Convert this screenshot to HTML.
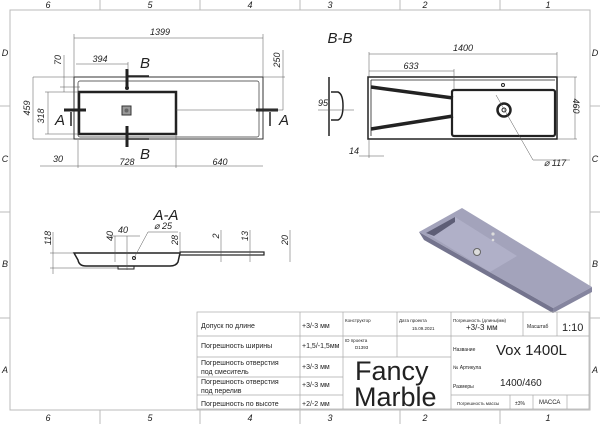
<!DOCTYPE html>
<html><head><meta charset="utf-8"><style>
html,body{margin:0;padding:0;background:#fff}
svg{display:block}
text{font-family:"Liberation Sans",sans-serif;fill:#222}
.i{font-style:italic}
</style></head><body>
<svg width="600" height="424" viewBox="0 0 600 424" xmlns="http://www.w3.org/2000/svg">
<g stroke="#bbb" stroke-width="1" fill="none">
<rect x="10" y="10" width="580" height="400"/>
<line x1="100" y1="0" x2="100" y2="10"/><line x1="200" y1="0" x2="200" y2="10"/><line x1="300" y1="0" x2="300" y2="10"/><line x1="400" y1="0" x2="400" y2="10"/><line x1="500" y1="0" x2="500" y2="10"/>
<line x1="100" y1="410" x2="100" y2="424"/><line x1="200" y1="410" x2="200" y2="424"/><line x1="300" y1="410" x2="300" y2="424"/><line x1="400" y1="410" x2="400" y2="424"/><line x1="500" y1="410" x2="500" y2="424"/>
<line x1="0" y1="106" x2="10" y2="106"/><line x1="0" y1="212" x2="10" y2="212"/><line x1="0" y1="318" x2="10" y2="318"/>
<line x1="590" y1="106" x2="600" y2="106"/><line x1="590" y1="212" x2="600" y2="212"/><line x1="590" y1="318" x2="600" y2="318"/>
</g>
<g class="i" font-size="9" text-anchor="middle">
<text x="48" y="8" class="i">6</text><text x="150" y="8" class="i">5</text><text x="250" y="8" class="i">4</text><text x="330" y="8" class="i">3</text><text x="425" y="8" class="i">2</text><text x="548" y="8" class="i">1</text>
<text x="48" y="421" class="i">6</text><text x="150" y="421" class="i">5</text><text x="250" y="421" class="i">4</text><text x="330" y="421" class="i">3</text><text x="425" y="421" class="i">2</text><text x="548" y="421" class="i">1</text>
<text x="5" y="56" class="i">D</text><text x="5" y="162" class="i">C</text><text x="5" y="267" class="i">B</text><text x="5" y="373" class="i">A</text>
<text x="595" y="56" class="i">D</text><text x="595" y="162" class="i">C</text><text x="595" y="267" class="i">B</text><text x="595" y="373" class="i">A</text>
</g>

<!-- top view -->
<g stroke="#333" fill="none">
<rect x="74" y="77" width="189" height="62" stroke-width="1"/>
<rect x="78" y="81" width="181" height="56" rx="2" stroke-width="0.7"/>
<rect x="79" y="92" width="97" height="42" stroke="#222" stroke-width="2.5"/>
</g>
<rect x="122" y="106" width="9" height="9" fill="#999" stroke="#333"/>
<circle cx="126.5" cy="110.5" r="2" fill="#666"/>
<!-- section markers -->
<g stroke="#222" stroke-width="3">
<line x1="127" y1="69" x2="127" y2="88"/><line x1="127" y1="126" x2="127" y2="147"/>
<line x1="64" y1="110" x2="86" y2="110"/><line x1="256" y1="110" x2="278" y2="110"/>
</g>
<circle cx="127" cy="88" r="2" fill="#222"/>
<g stroke="#222" stroke-width="1.5">
<line x1="128" y1="76" x2="149" y2="76"/><line x1="128" y1="139" x2="149" y2="139"/>
<line x1="71" y1="112" x2="71" y2="126"/><line x1="270" y1="112" x2="270" y2="126"/>
</g>
<g font-size="15" class="i" text-anchor="middle">
<text x="145" y="68" class="i">B</text><text x="145" y="159" class="i">B</text>
<text x="60" y="125" class="i">A</text><text x="284" y="125" class="i">A</text>
<text x="340" y="43" class="i">B-B</text>
<text x="166" y="220" class="i">A-A</text>
</g>
<!-- dimensions top view -->
<g stroke="#555" stroke-width="0.5" fill="none">
<line x1="74" y1="38" x2="263" y2="38"/><line x1="74" y1="34" x2="74" y2="77"/><line x1="263" y1="34" x2="263" y2="77"/>
<line x1="76" y1="64" x2="128" y2="64"/><line x1="128" y1="62" x2="128" y2="70"/>
<line x1="33" y1="77" x2="74" y2="77"/><line x1="33" y1="139" x2="74" y2="139"/>
<line x1="33" y1="77" x2="33" y2="139"/><line x1="48" y1="92" x2="48" y2="134"/><line x1="45" y1="92" x2="79" y2="92"/><line x1="45" y1="134" x2="79" y2="134"/>
<line x1="64" y1="55" x2="64" y2="92"/><line x1="60" y1="87" x2="80" y2="87"/>
<line x1="283" y1="50" x2="283" y2="110"/><line x1="263" y1="77" x2="285" y2="77"/><line x1="176" y1="110" x2="283" y2="110"/>
<line x1="40" y1="166" x2="263" y2="166"/><line x1="78" y1="140" x2="78" y2="168"/><line x1="176" y1="134" x2="176" y2="168"/>
</g>
<g font-size="9" class="i" text-anchor="middle">
<text x="160" y="35" class="i">1399</text><text x="100" y="62" class="i">394</text>
<text x="58" y="162" class="i">30</text><text x="127" y="165" class="i">728</text><text x="220" y="165" class="i">640</text>
<text transform="translate(30,108) rotate(-90)" class="i">459</text>
<text transform="translate(44,116) rotate(-90)" class="i">318</text>
<text transform="translate(61,60) rotate(-90)" class="i">70</text>
<text transform="translate(280,60) rotate(-90)" class="i">250</text>
</g>

<!-- B-B view -->
<g stroke="#222" fill="none">
<rect x="368" y="77" width="189" height="62" stroke-width="1.5"/>
<rect x="452" y="90" width="103" height="46" rx="2" stroke-width="2.2"/>
<line x1="371" y1="80" x2="555" y2="80" stroke-width="0.8"/>
<line x1="371" y1="80" x2="371" y2="136" stroke-width="0.8"/>
<path d="M371 87 L453 98 M371 129 L453 116" stroke-width="3.5"/>
<circle cx="504" cy="110" r="6.5" stroke-width="2.5"/><circle cx="504" cy="110" r="2" stroke-width="1"/>
<circle cx="503" cy="85" r="1.5"/>
<path d="M329 77 L329 136 M331 92 L338 92 Q343 94 343 106 Q343 118 338 120 L331 120" stroke-width="1.5"/>
</g>
<g stroke="#555" stroke-width="0.5" fill="none">
<line x1="369" y1="54" x2="557" y2="54"/><line x1="369" y1="52" x2="369" y2="77"/><line x1="557" y1="52" x2="557" y2="77"/>
<line x1="369" y1="71" x2="454" y2="71"/><line x1="454" y1="69" x2="454" y2="90"/>
<line x1="575" y1="77" x2="575" y2="139"/><line x1="557" y1="77" x2="577" y2="77"/><line x1="557" y1="139" x2="577" y2="139"/>
<line x1="318" y1="110" x2="354" y2="110"/>
<line x1="359" y1="156" x2="384" y2="156"/><line x1="369" y1="139" x2="369" y2="158"/>
<line x1="496" y1="95" x2="533" y2="160"/><line x1="533" y1="160" x2="570" y2="160"/>
</g>
<g font-size="9" class="i" text-anchor="middle">
<text x="463" y="51" class="i">1400</text><text x="411" y="69" class="i">633</text>
<text x="323" y="106" class="i">95</text><text x="354" y="154" class="i">14</text>
<text x="555" y="166" class="i">⌀ 117</text>
<text transform="translate(573,106) rotate(90)" class="i">460</text>
</g>

<!-- A-A view -->
<g stroke="#222" fill="none">
<path d="M74 253 L180 253 L178 262 Q176 266 170 266 L86 266 Q79 266 78 260 Z" stroke-width="1.5"/>
<rect x="118" y="266" width="16" height="3" stroke-width="1"/>
<rect x="180" y="252" width="84" height="3" stroke-width="1.2"/>
<circle cx="134" cy="258" r="1.5"/>
</g>
<g stroke="#555" stroke-width="0.5" fill="none">
<line x1="53" y1="232" x2="53" y2="274"/><line x1="50" y1="253" x2="74" y2="253"/><line x1="50" y1="268" x2="118" y2="268"/>
<line x1="115" y1="236" x2="115" y2="262"/><line x1="127" y1="236" x2="127" y2="270"/><line x1="110" y1="236" x2="140" y2="236"/>
<line x1="134" y1="258" x2="148" y2="232"/><line x1="148" y1="232" x2="178" y2="232"/>
<line x1="180" y1="232" x2="180" y2="255"/><line x1="221" y1="230" x2="221" y2="262"/><line x1="250" y1="230" x2="250" y2="262"/><line x1="290" y1="230" x2="290" y2="262"/>
</g>
<g font-size="9" class="i" text-anchor="middle">
<text x="123" y="233" class="i">40</text><text x="163" y="229" class="i">⌀ 25</text>
<text transform="translate(51,238) rotate(-90)" class="i">118</text>
<text transform="translate(113,236) rotate(-90)" class="i">40</text>
<text transform="translate(178,240) rotate(-90)" class="i">28</text>
<text transform="translate(219,236) rotate(-90)" class="i">2</text>
<text transform="translate(248,236) rotate(-90)" class="i">13</text>
<text transform="translate(288,240) rotate(-90)" class="i">20</text>
</g>

<!-- 3D render -->
<g>
<path d="M419 232 L462 208 L592 287 L553 308 Z" fill="#a3a3bb"/>
<path d="M419 232 L553 308 L553 313 L424 240 Z" fill="#74748e"/>
<path d="M553 308 L592 287 L592 292 L553 313 Z" fill="#85859f"/>
<path d="M426 233 L455 217 L517 256 L490 272 Z" fill="#b0b0c8"/>
<path d="M426 233 L455 217 L455 222 L434 236 Z" fill="#5e5e76"/>
<circle cx="477" cy="252" r="3.5" fill="#ddd" stroke="#666"/>
<circle cx="493" cy="234" r="1.6" fill="#ddd"/><circle cx="493" cy="240" r="1.3" fill="#ddd"/>
</g>

<!-- title block -->
<g stroke="#aaa" stroke-width="0.7" fill="none">
<rect x="197" y="312" width="392" height="97"/>
<line x1="300" y1="312" x2="300" y2="409"/><line x1="343" y1="312" x2="343" y2="409"/>
<line x1="197" y1="336" x2="451" y2="336"/><line x1="197" y1="357" x2="343" y2="357"/>
<line x1="197" y1="377" x2="343" y2="377"/><line x1="197" y1="395" x2="343" y2="395"/>
<line x1="343" y1="357" x2="451" y2="357"/>
<line x1="397" y1="312" x2="397" y2="357"/><line x1="451" y1="312" x2="451" y2="409"/>
<line x1="451" y1="336" x2="589" y2="336"/>
<line x1="523" y1="312" x2="523" y2="336"/><line x1="557" y1="312" x2="557" y2="336"/>
<line x1="451" y1="395" x2="589" y2="395"/>
<line x1="510" y1="395" x2="510" y2="409"/><line x1="533" y1="395" x2="533" y2="409"/><line x1="567" y1="395" x2="567" y2="409"/>
</g>
<g font-family="'DejaVu Sans','Liberation Sans',sans-serif">
<text x="201" y="328" font-size="7">Допуск по длине</text>
<text x="201" y="348" font-size="7">Погрешность ширины</text>
<text x="201" y="365" font-size="7">Погрешность отверстия</text><text x="201" y="374" font-size="7">под смеситель</text>
<text x="201" y="384" font-size="7">Погрешность отверстия</text><text x="201" y="393" font-size="7">под перелив</text>
<text x="201" y="406" font-size="7">Погрешность по высоте</text>
<text x="302" y="328" font-size="7">+3/-3 мм</text>
<text x="302" y="348" font-size="7">+1,5/-1,5мм</text>
<text x="302" y="369" font-size="7">+3/-3 мм</text>
<text x="302" y="387" font-size="7">+3/-3 мм</text>
<text x="302" y="406" font-size="7">+2/-2 мм</text>
<text x="345" y="322" font-size="4.5">Конструктор</text>
<text x="399" y="322" font-size="4.5">Дата проекта</text><text x="412" y="330" font-size="4.5">15.09.2021</text>
<text x="345" y="342" font-size="4.5">ID проекта</text><text x="355" y="349" font-size="4.5">D1393</text>
<text x="355" y="380" font-size="27" fill="#222">Fancy</text>
<text x="354" y="406" font-size="27" fill="#222">Marble</text>
<text x="453" y="322" font-size="4.5">Погрешность (длины(мм)</text>
<text x="466" y="330" font-size="8">+3/-3 мм</text>
<text x="527" y="328" font-size="5">Масштаб</text>
<text x="562" y="331" font-size="11">1:10</text>
<text x="453" y="351" font-size="5">Название</text>
<text x="496" y="355" font-size="15">Vox 1400L</text>
<text x="453" y="369" font-size="5">№ Артикула</text>
<text x="453" y="388" font-size="5">Размеры</text>
<text x="500" y="386" font-size="10">1400/460</text>
<text x="457" y="405" font-size="4.5">Погрешность массы</text>
<text x="515" y="405" font-size="5">±3%</text>
<text x="539" y="404" font-size="6">МАССА</text>
</g>
</svg>
</body></html>
